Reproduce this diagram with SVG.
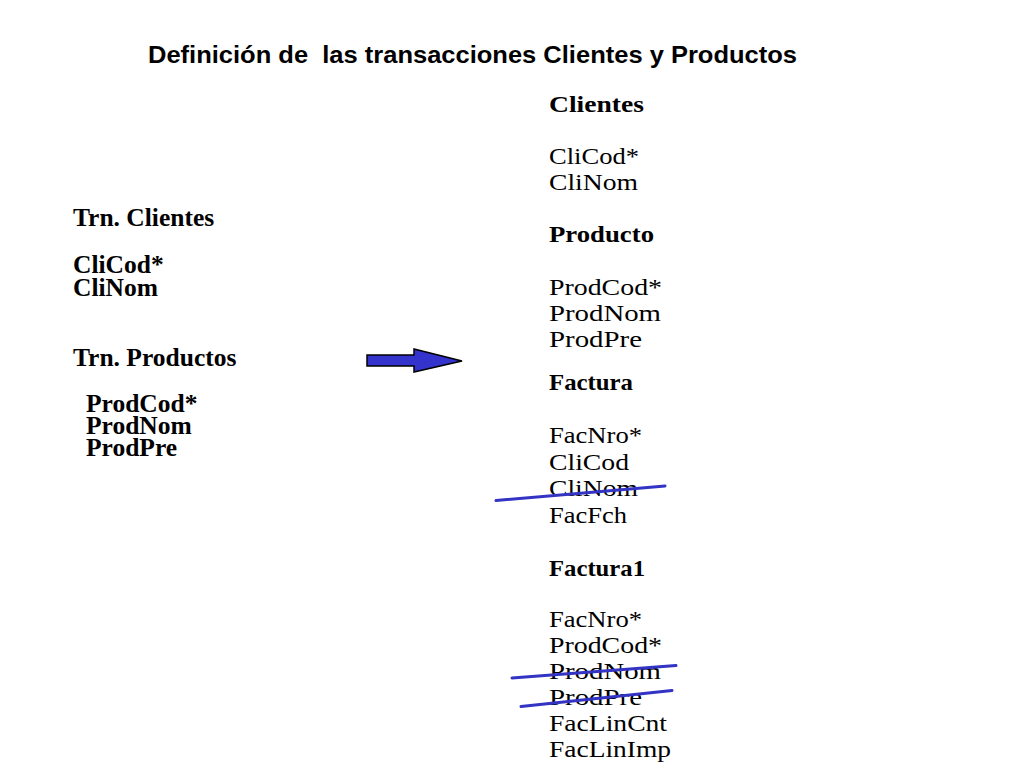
<svg xmlns="http://www.w3.org/2000/svg" width="1024" height="768" viewBox="0 0 1024 768">
  <style>
    .title { font-family: "Liberation Sans", Arial, sans-serif; font-weight: bold; font-size: 24.5px; fill: #000; white-space: pre; }
    .lb { font-family: "Liberation Serif", "Times New Roman", serif; font-weight: bold; font-size: 25.5px; fill: #000; }
    .rh { font-family: "Liberation Serif", "Times New Roman", serif; font-weight: bold; font-size: 24px; fill: #000; }
    .rt { font-family: "Liberation Serif", "Times New Roman", serif; font-size: 24px; fill: #000; }
    .strike { stroke: #3333C4; stroke-width: 3; stroke-linecap: round; fill: none; }
    .arrow { fill: #3434CC; stroke: #000; stroke-width: 1.5; stroke-linejoin: miter; }
  </style>
  <rect width="1024" height="768" fill="#ffffff"/>

  <g id="title">
    <text class="title" x="148" y="62.5" textLength="649" lengthAdjust="spacingAndGlyphs">Definición de  las transacciones Clientes y Productos</text>
  </g>

  <g id="trn-clientes">
    <text class="lb" x="73" y="226">Trn. Clientes</text>
    <text class="lb" x="73" y="273">CliCod*</text>
    <text class="lb" x="73" y="296">CliNom</text>
  </g>

  <g id="trn-productos">
    <text class="lb" x="73" y="366">Trn. Productos</text>
    <text class="lb" x="86" y="412">ProdCod*</text>
    <text class="lb" x="86" y="434">ProdNom</text>
    <text class="lb" x="86" y="456">ProdPre</text>
  </g>

  <g id="tabla-clientes">
    <text class="rh" x="549" y="112" textLength="95" lengthAdjust="spacingAndGlyphs">Clientes</text>
    <text class="rt" x="549" y="164" textLength="90" lengthAdjust="spacingAndGlyphs">CliCod*</text>
    <text class="rt" x="549" y="190" textLength="89" lengthAdjust="spacingAndGlyphs">CliNom</text>
  </g>

  <g id="tabla-producto">
    <text class="rh" x="549" y="242" textLength="105" lengthAdjust="spacingAndGlyphs">Producto</text>
    <text class="rt" x="549" y="295" textLength="113" lengthAdjust="spacingAndGlyphs">ProdCod*</text>
    <text class="rt" x="549" y="321" textLength="112" lengthAdjust="spacingAndGlyphs">ProdNom</text>
    <text class="rt" x="549" y="347" textLength="93" lengthAdjust="spacingAndGlyphs">ProdPre</text>
  </g>

  <g id="tabla-factura">
    <text class="rh" x="549" y="390" textLength="84" lengthAdjust="spacingAndGlyphs">Factura</text>
    <text class="rt" x="549" y="443" textLength="93" lengthAdjust="spacingAndGlyphs">FacNro*</text>
    <text class="rt" x="549" y="470" textLength="80" lengthAdjust="spacingAndGlyphs">CliCod</text>
    <text class="rt" x="549" y="496" textLength="89" lengthAdjust="spacingAndGlyphs">CliNom</text>
    <text class="rt" x="549" y="523" textLength="78" lengthAdjust="spacingAndGlyphs">FacFch</text>
  </g>

  <g id="tabla-factura1">
    <text class="rh" x="549" y="576" textLength="96" lengthAdjust="spacingAndGlyphs">Factura1</text>
    <text class="rt" x="549" y="627" textLength="93" lengthAdjust="spacingAndGlyphs">FacNro*</text>
    <text class="rt" x="549" y="653" textLength="113" lengthAdjust="spacingAndGlyphs">ProdCod*</text>
    <text class="rt" x="549" y="679" textLength="112" lengthAdjust="spacingAndGlyphs">ProdNom</text>
    <text class="rt" x="549" y="705" textLength="93" lengthAdjust="spacingAndGlyphs">ProdPre</text>
    <text class="rt" x="549" y="731" textLength="118" lengthAdjust="spacingAndGlyphs">FacLinCnt</text>
    <text class="rt" x="549" y="757" textLength="122" lengthAdjust="spacingAndGlyphs">FacLinImp</text>
  </g>

  <g id="connectors">
    <polygon class="arrow" points="367,355 414,355 414,349 462,361 414,372 414,366 367,366"/>
  </g>

  <g id="tachados">
    <line class="strike" x1="496" y1="500.5" x2="665" y2="486"/>
    <line class="strike" x1="512" y1="678" x2="676" y2="665.5"/>
    <line class="strike" x1="521" y1="706.5" x2="672" y2="690.5"/>
  </g>
</svg>
